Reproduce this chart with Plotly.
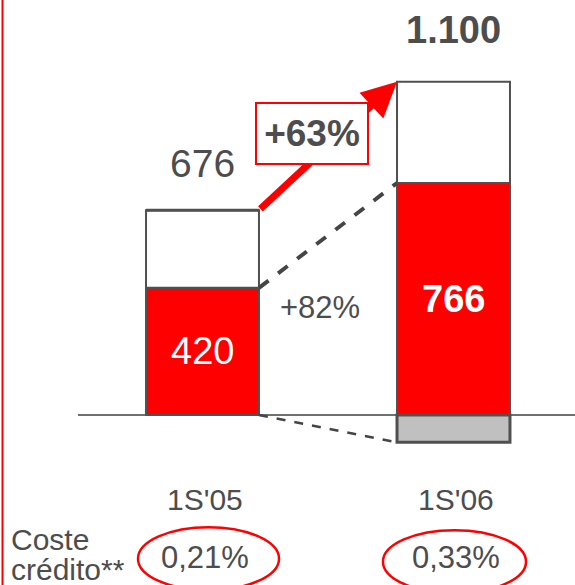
import plotly.graph_objects as go

# Data
categories = ["1S'05", "1S'06"]
red_vals = [420, 766]          # red segment
totals = [676, 1100]           # bar totals
grey_vals = [0, -90]           # negative segment below the axis
cost_labels = ["0,21%", "0,33%"]
total_growth = "+63%"
red_growth = "+82%"
total_labels = ["676", "1.100"]

white_vals = [t - r for t, r in zip(totals, red_vals)]
xpos = [0, 1]

FONT = "Liberation Sans, Arial, sans-serif"
GREY_TXT = "#4d4d4d"
EDGE = "#505050"
RED = "#ff0000"
BAR_W = 0.45
half = BAR_W / 2

fig = go.Figure()
fig.add_trace(go.Bar(x=xpos, y=red_vals, width=BAR_W, marker=dict(color=RED, line=dict(color=EDGE, width=2))))
fig.add_trace(go.Bar(x=xpos, y=white_vals, width=BAR_W, marker=dict(color="white", line=dict(color=EDGE, width=2))))
fig.add_trace(go.Bar(x=xpos, y=grey_vals, width=BAR_W, marker=dict(color="#c0c0c0", line=dict(color=EDGE, width=3))))

shapes = []
# baseline
shapes.append(dict(type="line", xref="paper", yref="y", x0=78 / 575, x1=1, y0=0, y1=0,
                   line=dict(color="#707070", width=2), layer="below"))
# left red rule
shapes.append(dict(type="line", xref="paper", yref="paper", x0=2.5 / 575, x1=2.5 / 575, y0=0, y1=1,
                   line=dict(color=RED, width=2)))
# dashed connector between red segments
shapes.append(dict(type="line", xref="x", yref="y", x0=xpos[0] + half, y0=red_vals[0],
                   x1=xpos[1] - half, y1=red_vals[1], line=dict(color="#454545", width=4, dash="dash")))
# dashed connector along the bottoms
shapes.append(dict(type="line", xref="x", yref="y", x0=xpos[0] + half, y0=grey_vals[0],
                   x1=xpos[1] - half, y1=grey_vals[1], line=dict(color="#454545", width=2.5, dash="dash")))
# ellipses around the credit cost values
ell = [(-0.257, 0.305, -370, -578), (0.719, 1.289, -380, -588)]
for x0, x1, y0, y1 in ell:
    shapes.append(dict(type="circle", xref="x", yref="y", x0=x0, x1=x1, y0=y0, y1=y1,
                       line=dict(color=RED, width=2.5)))

ann = []
# growth arrow between totals
ann.append(dict(x=xpos[1] - half, y=totals[1], ax=xpos[0] + half, ay=totals[0],
                xref="x", yref="y", axref="x", ayref="y", text="", showarrow=True,
                arrowhead=2, arrowsize=1, arrowwidth=7, arrowcolor=RED))
# growth box
ann.append(dict(x=0.436, y=929, xref="x", yref="y", text="<b>%s</b>" % total_growth, showarrow=False,
                font=dict(family=FONT, size=37, color=GREY_TXT), bgcolor="white",
                bordercolor=RED, borderwidth=2, width=110, height=59, borderpad=0))
ann.append(dict(x=0.47, y=356, xref="x", yref="y", text=red_growth, showarrow=False,
                font=dict(family=FONT, size=31, color=GREY_TXT)))
# totals above bars
ann.append(dict(x=xpos[0], y=totals[0], xref="x", yref="y", text=total_labels[0], showarrow=False,
                yshift=47, font=dict(family=FONT, size=39, color=GREY_TXT)))
ann.append(dict(x=xpos[1], y=totals[1], xref="x", yref="y", text="<b>%s</b>" % total_labels[1],
                showarrow=False, yshift=52, font=dict(family=FONT, size=38, color=GREY_TXT)))
# values inside red segments
ann.append(dict(x=xpos[0], y=red_vals[0] / 2, xref="x", yref="y", text=str(red_vals[0]), showarrow=False,
                font=dict(family=FONT, size=38, color="white")))
ann.append(dict(x=xpos[1], y=red_vals[1] / 2, xref="x", yref="y", text="<b>%d</b>" % red_vals[1],
                showarrow=False, font=dict(family=FONT, size=38, color="white")))
# category labels
for xp, cat in zip(xpos, categories):
    ann.append(dict(x=xp + 0.01, y=-280, xref="x", yref="y", text=cat, showarrow=False,
                    font=dict(family=FONT, size=30, color=GREY_TXT)))
# credit cost values
for xp, lab in zip(xpos, cost_labels):
    ann.append(dict(x=xp + 0.01, y=-470, xref="x", yref="y", text=lab, showarrow=False,
                    font=dict(family=FONT, size=31, color=GREY_TXT)))
ann.append(dict(x=9 / 575, y=-410, xref="paper", yref="y", text="Coste", showarrow=False,
                xanchor="left", font=dict(family=FONT, size=30, color=GREY_TXT)))
ann.append(dict(x=9 / 575, y=-510, xref="paper", yref="y", text="crédito**", showarrow=False,
                xanchor="left", font=dict(family=FONT, size=30, color=GREY_TXT)))

fig.update_layout(
    width=575, height=585, margin=dict(l=0, r=0, t=0, b=0),
    barmode="relative", showlegend=False,
    paper_bgcolor="white", plot_bgcolor="white",
    xaxis=dict(range=[-0.8068, 1.4841], visible=False, fixedrange=True),
    yaxis=dict(range=[-561, 1370], visible=False, fixedrange=True),
    shapes=shapes, annotations=ann,
)

fig.write_html("out.html", config={"displayModeBar": False})
